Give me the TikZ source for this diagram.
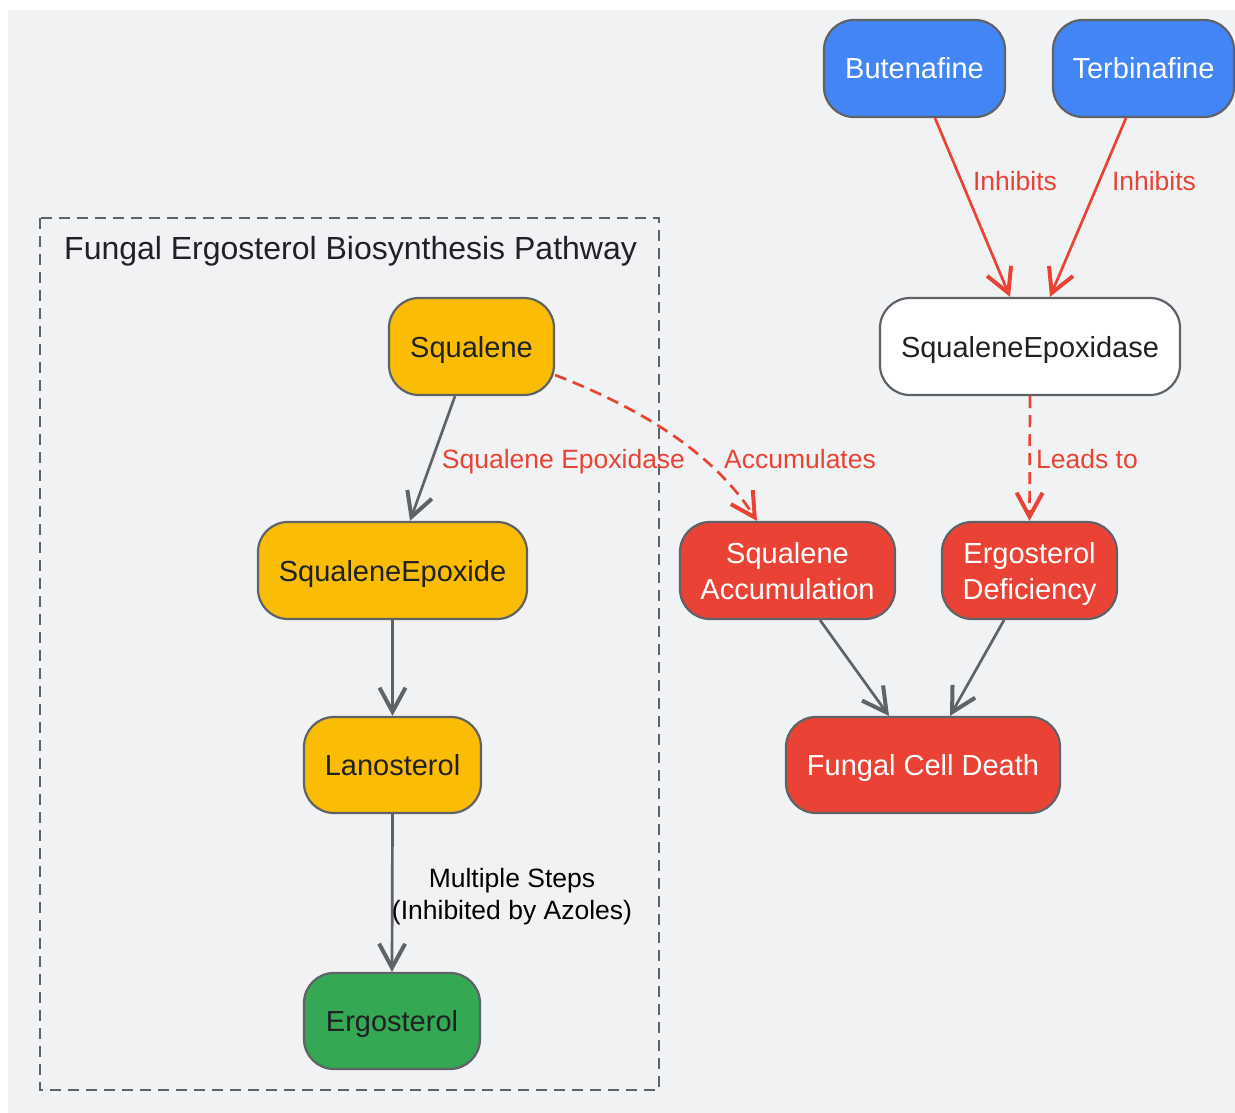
\documentclass[tikz,border=0pt]{standalone}
\usepackage{fontspec}
\setmainfont{Liberation Sans}
\usetikzlibrary{arrows.meta,calc}
\definecolor{bgc}{HTML}{F1F2F4}
\definecolor{gblue}{HTML}{4285F4}
\definecolor{gyellow}{HTML}{FBBC04}
\definecolor{ggreen}{HTML}{34A853}
\definecolor{gred}{HTML}{EA4335}
\definecolor{ggray}{HTML}{5F6368}
\definecolor{gdark}{HTML}{202124}
\tikzset{
  box/.style={draw=ggray, line width=2.2pt, rounded corners=30pt, align=center,
    inner sep=0pt, font=\fontsize{29}{36}\selectfont, text height=27pt, text depth=6pt},
  twoline/.style={text height=63pt, text depth=6pt},
  bluebox/.style={box, fill=gblue, text=white},
  yelbox/.style={box, fill=gyellow, text=gdark},
  grnbox/.style={box, fill=ggreen, text=gdark},
  redbox/.style={box, fill=gred, text=white},
  whtbox/.style={box, fill=white, text=gdark},
  conn/.style={draw=ggray, line width=2.7pt, -{Straight Barb[length=24pt,width=26pt,line width=4pt]}},
  redconn/.style={conn, draw=gred},
  dashconn/.style={redconn, dash pattern=on 12pt off 7pt},
  lbl/.style={font=\fontsize{26.5}{32}\selectfont, align=center, inner sep=0pt, text height=24.6pt, text depth=5.6pt},
  redlbl/.style={lbl, text=gred},
}
\begin{document}
\begin{tikzpicture}[x=1pt,y=-1pt]
\useasboundingbox (0,0) rectangle (1235,1113);
\fill[bgc] (8,10) rectangle (1235,1113);
% cluster
\draw[ggray, line width=2.7pt, dash pattern=on 11pt off 7pt] (40,218) rectangle (659,1090);
\node[anchor=west, inner sep=0pt, text=gdark, font=\fontsize{32}{38}\selectfont, text height=29.8pt, text depth=6.7pt] (title) at (64,248) {Fungal Ergosterol Biosynthesis Pathway};
% nodes
\node[bluebox, minimum width=181pt, minimum height=97pt] (but) at (914.5,68.5) {Butenafine};
\node[bluebox, minimum width=181pt, minimum height=97pt] (ter) at (1143.5,68.5) {Terbinafine};
\node[whtbox, minimum width=300pt, minimum height=97pt] (sqe) at (1030,346.5) {SqualeneEpoxidase};
\node[yelbox, minimum width=165pt, minimum height=97pt] (sq) at (471.5,346.5) {Squalene};
\node[yelbox, minimum width=269pt, minimum height=97pt] (sqx) at (392.5,570.5) {SqualeneEpoxide};
\node[yelbox, minimum width=177pt, minimum height=96pt] (lan) at (392.5,765) {Lanosterol};
\node[grnbox, minimum width=176pt, minimum height=96pt] (erg) at (392,1021) {Ergosterol};
\node[redbox, twoline, minimum width=215pt, minimum height=97pt] (acc) at (787.5,570.5) {Squalene\\Accumulation};
\node[redbox, twoline, minimum width=175pt, minimum height=97pt] (def) at (1029.5,570.5) {Ergosterol\\Deficiency};
\node[redbox, minimum width=274pt, minimum height=96pt] (fcd) at (923,765) {Fungal Cell Death};
% edges
\draw[redconn] ($(but.south)+(20.5,0)$) -- ($(sqe.north)+(-20,0)$);
\draw[redconn] ($(ter.south)+(-17.5,0)$) -- ($(sqe.north)+(20,0)$);
\draw[dashconn] (sqe.south) -- (def.north);
\draw[conn] ($(sq.south)+(-16.5,0)$) -- ($(sqx.north)+(17.5,0)$);
\draw[dashconn] ($(sq.east)+(0,28.5)$) .. controls (645,410) and (715,455) .. ($(acc.north)+(-30.5,0)$);
\draw[conn] (sqx.south) -- (lan.north);
\draw[conn] (lan.south) -- (erg.north);
\draw[conn] ($(acc.south)+(32.5,0)$) -- ($(fcd.north)+(-34,0)$);
\draw[conn] ($(def.south)+(-25.5,0)$) -- ($(fcd.north)+(27,0)$);
% labels
\node[redlbl] (l1) at (1015,181) {Inhibits};
\node[redlbl] (l2) at (1154,181) {Inhibits};
\node[redlbl] (l3) at (1087,459) {Leads to};
\node[redlbl] (l4) at (563.5,459) {Squalene Epoxidase};
\node[redlbl] (l5) at (800,459) {Accumulates};
\node[lbl, text=black, text height=56.6pt] (l6) at (512,894) {Multiple Steps\\(Inhibited by Azoles)};
\end{tikzpicture}
\end{document}
